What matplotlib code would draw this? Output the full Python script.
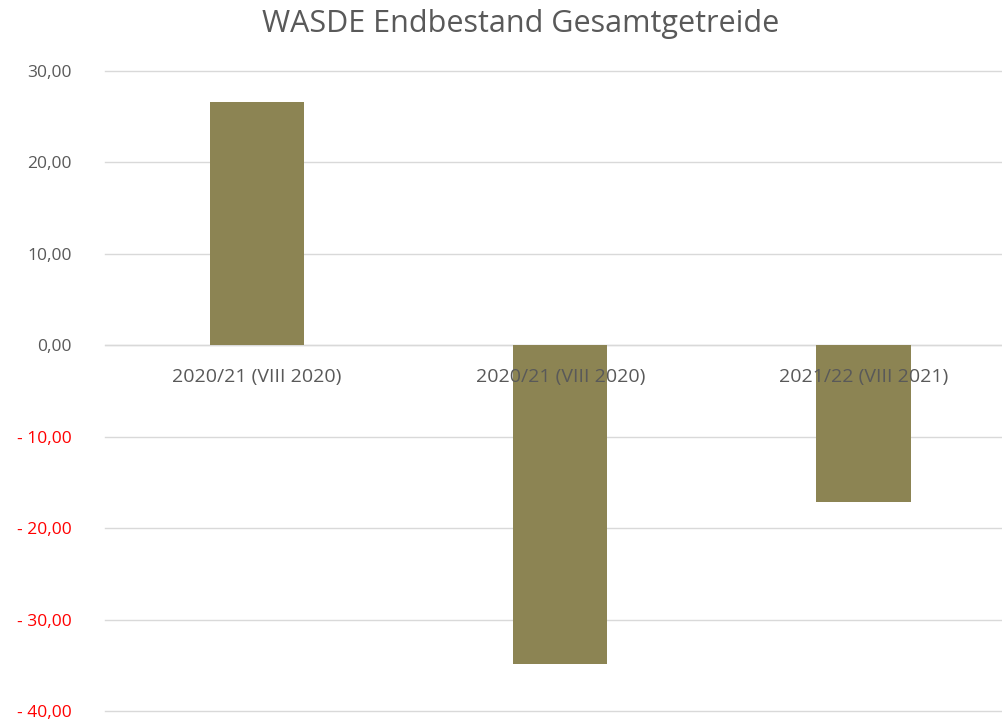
import matplotlib.pyplot as plt
from matplotlib.ticker import FuncFormatter

categories = ["2020/21 (VIII 2020)", "2020/21 (VIII 2020)", "2021/22 (VIII 2021)"]
values = [26.6, -34.9, -17.1]
yticks = [30, 20, 10, 0, -10, -20, -30, -40]

plt.rcParams['font.family'] = ['Open Sans', 'DejaVu Sans']

fig = plt.figure(figsize=(10.03, 7.22), dpi=100)
ax = fig.add_axes([0.105, 0.0152, 0.895, 0.8865])

x = list(range(len(categories)))
ax.bar(x, values, width=0.31, color='#8C8453', zorder=2)

ax.set_ylim(-40, 30)
ax.set_xlim(-0.5, 2.46)
ax.set_yticks(yticks)


def fmt(v, pos):
    s = f"{abs(v):.2f}".replace('.', ',')
    return f"- {s}" if v < 0 else s


ax.yaxis.set_major_formatter(FuncFormatter(fmt))
ax.tick_params(axis='y', length=0, pad=24, labelsize=12.5, labelcolor='#595959')
for lbl, v in zip(ax.get_yticklabels(), yticks):
    if v < 0:
        lbl.set_color('#FF0000')
ax.set_xticks([])
ax.grid(axis='y', color='#D9D9D9', linewidth=1, zorder=0)
for gl in ax.get_ygridlines():
    gl.set_clip_on(False)
for s in ax.spines.values():
    s.set_visible(False)
ax.axhline(0, color='#D9D9D9', linewidth=1, zorder=1)

for i, c in enumerate(categories):
    ax.annotate(c, (i, 0), xytext=(0, -16), textcoords='offset points',
                ha='center', va='top', fontsize=14, color='#595959', zorder=3)

fig.suptitle("WASDE Endbestand Gesamtgetreide", fontsize=22, color='#595959',
             x=0.519, y=0.988, va='top')

fig.savefig('out.png', dpi=100)
